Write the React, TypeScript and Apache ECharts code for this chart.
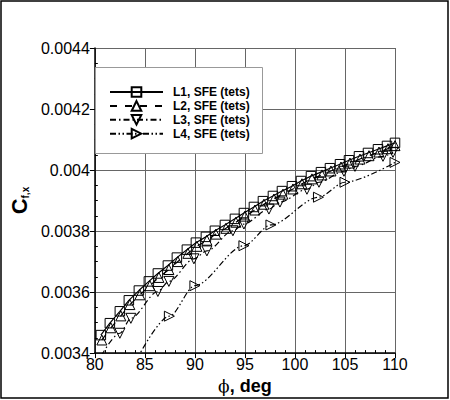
import React, { useEffect, useRef } from "react";
import * as echarts from "echarts";

const FONT = "'Liberation Sans', Arial, Helvetica, sans-serif";

const SERIES_NAMES = ["L1, SFE (tets)", "L2, SFE (tets)", "L3, SFE (tets)", "L4, SFE (tets)"];

const X_TICKS = [80, 85, 90, 95, 100, 105, 110];
const Y_TICK_LABELS = ["0.0034", "0.0036", "0.0038", "0.004", "0.0042", "0.0044"];

const L1_X = [80.6, 81.5, 82.5, 83.4, 84.4, 85.4, 86.3, 87.3, 88.2, 89.2, 90.1, 91.1, 92.0, 93.0, 94.0, 94.9,
  95.9, 96.8, 97.8, 98.7, 99.7, 100.6, 101.6, 102.6, 103.5, 104.5, 105.4, 106.4, 107.3, 108.3, 109.2, 110.0];
const L1_Y = [0.003459, 0.003498, 0.003537, 0.003573, 0.003605, 0.003635, 0.003661, 0.003687, 0.003713, 0.003739,
  0.003762, 0.003781, 0.003801, 0.00382, 0.00384, 0.003859, 0.003879, 0.003898, 0.003915, 0.003931, 0.003947,
  0.003964, 0.00398, 0.003993, 0.004006, 0.004019, 0.004032, 0.004045, 0.004056, 0.004068, 0.004079, 0.004089];

const L2_X = [80.7, 81.6, 82.6, 83.5, 84.5, 85.5, 86.4, 87.4, 88.3, 89.3, 90.2, 91.2, 92.1, 93.1, 94.1, 95.0,
  96.0, 96.9, 97.9, 98.8, 99.8, 100.7, 101.7, 102.7, 103.6, 104.6, 105.5, 106.5, 107.4, 108.4, 109.3, 110.0];
const L2_Y = [0.003443, 0.003483, 0.003522, 0.003559, 0.003591, 0.003621, 0.003648, 0.003674, 0.0037, 0.003727,
  0.00375, 0.00377, 0.00379, 0.003809, 0.003829, 0.003849, 0.003869, 0.003888, 0.003905, 0.003921, 0.003938,
  0.003955, 0.003971, 0.003984, 0.003997, 0.00401, 0.004023, 0.004036, 0.004047, 0.004059, 0.00407, 0.00408];

// first point of L3 / L4 lies below the axis (line only, no marker)
const L3_X = [80.0, 82.5, 83.6, 86.3, 87.4, 89.9, 91.2, 93.8, 94.9, 97.4, 98.5, 101.2, 102.4, 104.9, 106.0, 108.8, 109.8];
const L3_Y = [0.003353, 0.003465, 0.003514, 0.003602, 0.003635, 0.003709, 0.003735, 0.003801, 0.003823, 0.003872,
  0.003895, 0.003937, 0.00396, 0.003996, 0.004012, 0.004045, 0.004058];

const L4_X = [84.0, 87.45, 90.0, 94.9, 97.6, 102.35, 105.0, 110.0];
const L4_Y = [0.003368, 0.003521, 0.003621, 0.003752, 0.00382, 0.003911, 0.00396, 0.004025];

function toData(xs: number[], ys: number[], hideFirst: boolean) {
  return xs.map((x, i) =>
    hideFirst && i === 0 ? { value: [x, ys[i]], symbol: "none" } : { value: [x, ys[i]] }
  );
}

const markerStyle = { color: "rgba(0,0,0,0)", borderColor: "#000", borderWidth: 1 };

export default function App() {
  const ref = useRef<HTMLDivElement>(null);
  useEffect(() => {
    document.body.style.margin = "0";
    const chart = echarts.init(ref.current!, null, { renderer: "svg" });
    const option: any = {
      animation: false,
      backgroundColor: "#fff",
      graphic: [
        {
          type: "rect",
          shape: { x: 1, y: 1, width: 447, height: 397 },
          style: { fill: "none", stroke: "#000", lineWidth: 1.5 },
          silent: true,
          z: 10,
        },
        {
          type: "rect",
          shape: { x: 95.5, y: 67.5, width: 167, height: 86 },
          style: { fill: "#fff", stroke: "#999", lineWidth: 1 },
          silent: true,
          z: 3,
        },
      ],
      grid: { left: 81, top: 48, width: 314, height: 307, containLabel: false },
      legend: {
        orient: "vertical",
        left: 109,
        top: 86,
        itemWidth: 53,
        itemHeight: 12,
        itemGap: 1.9,
        padding: 0,
        z: 5,
        textStyle: { fontFamily: FONT, fontSize: 12, fontWeight: "bold", color: "#000", padding: [0, 0, 0, 5] },
        data: SERIES_NAMES,
      },
      xAxis: {
        type: "value",
        min: X_TICKS[0],
        max: X_TICKS[X_TICKS.length - 1],
        interval: 5,
        axisLine: { show: true, onZero: false, lineStyle: { color: "#000", width: 1.5 } },
        axisTick: { show: true, inside: false, length: 5, lineStyle: { color: "#000", width: 1 } },
        minorTick: { show: true, splitNumber: 5, length: -3, lineStyle: { color: "#000", width: 1 } },
        splitLine: { show: true, lineStyle: { color: "#666", width: 1 } },
        axisLabel: { fontFamily: FONT, fontSize: 16, color: "#000", margin: 3 },
        name: "{p|ϕ}{t|, deg}",
        nameLocation: "middle",
        nameGap: 16,
        nameTextStyle: {
          rich: {
            p: { fontFamily: "'DejaVu Serif', 'Liberation Serif', serif", fontSize: 17, color: "#000" },
            t: { fontFamily: FONT, fontSize: 18, fontWeight: "bold", color: "#000" },
          },
        },
      },
      yAxis: {
        type: "value",
        min: 0.0034,
        max: 0.0044,
        interval: 0.0002,
        axisLine: { show: true, onZero: false, lineStyle: { color: "#000", width: 1.5 } },
        axisTick: { show: true, inside: false, length: 5, lineStyle: { color: "#000", width: 1 } },
        minorTick: { show: true, splitNumber: 4, length: -3, lineStyle: { color: "#000", width: 1 } },
        splitLine: { show: true, lineStyle: { color: "#666", width: 1 } },
        axisLabel: {
          fontFamily: FONT,
          fontSize: 16,
          color: "#000",
          margin: 5,
          formatter: (v: number) => {
            const idx = Math.round((v - 0.0034) / 0.0002);
            return Y_TICK_LABELS[idx] ?? "";
          },
        },
        name: "{c|C}{s|f,x}",
        nameLocation: "middle",
        nameGap: 55,
        nameRotate: 90,
        nameTextStyle: {
          rich: {
            c: { fontFamily: FONT, fontSize: 22, fontWeight: "bold", color: "#000", lineHeight: 24, verticalAlign: "bottom" },
            s: { fontFamily: FONT, fontSize: 10, fontWeight: "bold", color: "#000", lineHeight: 13, verticalAlign: "bottom" },
          },
        },
      },
      series: [
        {
          name: SERIES_NAMES[0],
          type: "line",
          data: toData(L1_X, L1_Y, false),
          symbol: "rect",
          symbolSize: 9.5,
          showAllSymbol: true,
          lineStyle: { color: "#000", width: 1.2, type: "solid" },
          itemStyle: markerStyle,
          z: 2.4,
        },
        {
          name: SERIES_NAMES[1],
          type: "line",
          data: toData(L2_X, L2_Y, false),
          symbol: "triangle",
          symbolSize: 10,
          showAllSymbol: true,
          lineStyle: { color: "#000", width: 1.2, type: [7, 8] },
          itemStyle: markerStyle,
          z: 2.3,
        },
        {
          name: SERIES_NAMES[2],
          type: "line",
          data: toData(L3_X, L3_Y, true),
          symbol: "triangle",
          symbolRotate: 180,
          symbolSize: 10,
          showAllSymbol: true,
          smooth: 0.3,
          smoothMonotone: "x",
          lineStyle: { color: "#000", width: 1.2, type: [6, 3, 1.5, 3] },
          itemStyle: markerStyle,
          z: 2.2,
        },
        {
          name: SERIES_NAMES[3],
          type: "line",
          data: toData(L4_X, L4_Y, true),
          symbol: "triangle",
          symbolRotate: -90,
          symbolSize: 10,
          showAllSymbol: true,
          smooth: 0.3,
          smoothMonotone: "x",
          lineStyle: { color: "#000", width: 1.2, type: [6, 2.5, 1.5, 2.5, 1.5, 2.5] },
          itemStyle: markerStyle,
          z: 2.1,
        },
      ],
    };
    chart.setOption(option);
    return () => chart.dispose();
  }, []);
  return <div ref={ref} style={{ width: 450, height: 400 }} />;
}
